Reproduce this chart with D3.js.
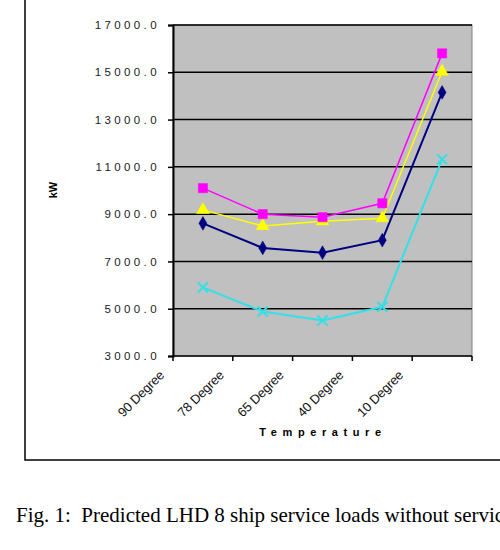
<!DOCTYPE html>
<html>
<head>
<meta charset="utf-8">
<script src="https://cdn.jsdelivr.net/npm/d3@7"></script>
<style>
  body { margin: 0; background: #fff; }
  svg { display: block; }
</style>
</head>
<body>
<div id="chart"></div>
<script>
// categories and series
var categories = ["90 Degree", "78 Degree", "65 Degree", "40 Degree", "10 Degree"];
var magentaVals = [10100, 9000, 8870, 9460, 15800];
var yellowVals = [9180, 8500, 8700, 8830, 15030];
var navyVals = [8610, 7570, 7370, 7900, 14150];
var cyanVals = [5900, 4880, 4500, 5080, 11320];
var yTicks = [3000, 5000, 7000, 9000, 11000, 13000, 15000, 17000];

var series = [
    { name: "navy", values: navyVals, color: "#000080", marker: "diamond", width: 2 },
    { name: "cyan", values: cyanVals, color: "#33e0e8", marker: "x", width: 2 },
    { name: "yellow", values: yellowVals, color: "#ffff00", marker: "triangle", width: 1.5 },
    { name: "magenta", values: magentaVals, color: "#ff00ff", marker: "square", width: 1.5 }
];

var W = 500, H = 550;
var plot = { left: 173, right: 472, top: 25, bottom: 356 };

var svg = d3.select("#chart").append("svg")
    .attr("width", W)
    .attr("height", H);

// outer frame of the chart object (top/right run off the page)
svg.append("rect")
    .attr("x", 25).attr("y", -10)
    .attr("width", 500).attr("height", 470)
    .attr("fill", "none")
    .attr("stroke", "#000")
    .attr("stroke-width", 1.5);

var x = d3.scaleBand().domain(categories).range([plot.left, plot.right]);
var y = d3.scaleLinear().domain([3000, 17000]).range([plot.bottom, plot.top]);

// plot area
svg.append("rect")
    .attr("x", plot.left).attr("y", plot.top)
    .attr("width", plot.right - plot.left).attr("height", plot.bottom - plot.top)
    .attr("fill", "#c0c0c0")
    .attr("stroke", "#808080")
    .attr("stroke-width", 1);

// gridlines
svg.append("g")
    .selectAll("line")
    .data(yTicks.slice(1))
    .enter().append("line")
    .attr("x1", plot.left).attr("x2", plot.right)
    .attr("y1", function (d) { return y(d); })
    .attr("y2", function (d) { return y(d); })
    .attr("stroke", "#000")
    .attr("stroke-width", 1.5);

// y axis
var yAxis = svg.append("g")
    .attr("transform", "translate(" + plot.left + ",0)")
    .call(d3.axisLeft(y).tickValues(yTicks).tickSize(5).tickFormat(d3.format(".1f")));
yAxis.select(".domain").attr("stroke-width", 2);
yAxis.selectAll(".tick line").attr("stroke-width", 1.5);
yAxis.selectAll("text")
    .attr("x", -13)
    .attr("font-family", "Liberation Sans, Arial, sans-serif")
    .attr("font-size", 11.5)
    .attr("letter-spacing", "3.4px")
    .attr("fill", "#222");

// x axis: ticks at category boundaries
var xg = svg.append("g");
xg.append("line")
    .attr("x1", plot.left).attr("x2", plot.right)
    .attr("y1", plot.bottom).attr("y2", plot.bottom)
    .attr("stroke", "#000").attr("stroke-width", 1.5);
xg.selectAll(".xtick")
    .data(categories.concat(["end"]))
    .enter().append("line")
    .attr("class", "xtick")
    .attr("x1", function (d, i) { return plot.left + i * x.bandwidth(); })
    .attr("x2", function (d, i) { return plot.left + i * x.bandwidth(); })
    .attr("y1", plot.bottom).attr("y2", plot.bottom + 5)
    .attr("stroke", "#000").attr("stroke-width", 1.5);

// rotated category labels
xg.selectAll(".xlab")
    .data(categories)
    .enter().append("text")
    .attr("class", "xlab")
    .attr("transform", function (d) {
        return "translate(" + (x(d) + x.bandwidth() / 2 - 38) + "," + (plot.bottom + 20) + ") rotate(-45)";
    })
    .attr("text-anchor", "end")
    .attr("font-family", "Liberation Sans, Arial, sans-serif")
    .attr("font-size", 13)
    .attr("letter-spacing", "-0.2px")
    .attr("fill", "#111")
    .text(function (d) { return d; });

// axis titles
svg.append("text")
    .attr("x", 323).attr("y", 436)
    .attr("text-anchor", "middle")
    .attr("font-family", "Liberation Sans, Arial, sans-serif")
    .attr("font-size", 11)
    .attr("font-weight", "bold")
    .attr("letter-spacing", "5.6px")
    .text("Temperature");

svg.append("text")
    .attr("transform", "translate(57,190) rotate(-90)")
    .attr("text-anchor", "middle")
    .attr("font-family", "Liberation Sans, Arial, sans-serif")
    .attr("font-size", 11)
    .attr("font-weight", "bold")
    .text("kW");

// lines
var line = d3.line()
    .x(function (d, i) { return x(categories[i]) + x.bandwidth() / 2; })
    .y(function (d) { return y(d); });

var sg = svg.selectAll(".series")
    .data(series)
    .enter().append("g")
    .attr("class", "series");

sg.append("path")
    .attr("d", function (s) { return line(s.values); })
    .attr("fill", "none")
    .attr("stroke", function (s) { return s.color; })
    .attr("stroke-width", function (s) { return s.width; });

var symbols = {
    diamond: d3.symbol().type(d3.symbolDiamond).size(55),
    square: d3.symbol().type(d3.symbolSquare).size(85),
    triangle: d3.symbol().type(d3.symbolTriangle).size(70),
    x: d3.symbol().type(d3.symbolX).size(70)
};

sg.each(function (s) {
    d3.select(this).selectAll(".pt")
        .data(s.values)
        .enter().append("path")
        .attr("class", "pt")
        .attr("transform", function (d, i) {
            return "translate(" + (x(categories[i]) + x.bandwidth() / 2) + "," + y(d) + ")";
        })
        .attr("d", symbols[s.marker])
        .attr("fill", s.marker === "x" ? "none" : s.color)
        .attr("stroke", s.color)
        .attr("stroke-width", s.marker === "x" ? 2 : 0.5);
});

// caption (runs off the right edge, as in the source page)
svg.append("text")
    .attr("x", 16).attr("y", 522)
    .attr("font-family", "Liberation Serif, Times New Roman, serif")
    .attr("font-size", 21)
    .attr("xml:space", "preserve")
    .text("Fig. 1:  Predicted LHD 8 ship service loads without service");
</script>
</body>
</html>
